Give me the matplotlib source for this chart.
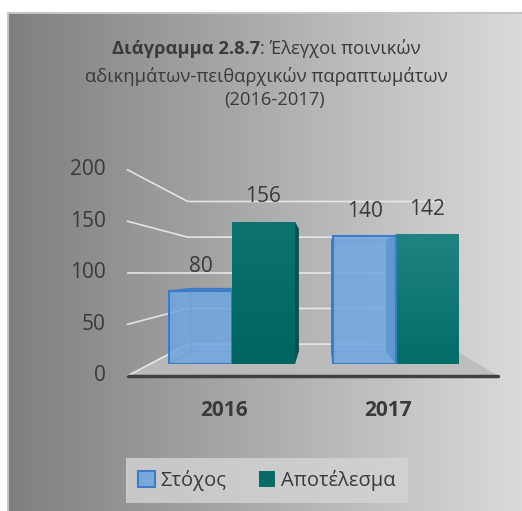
import numpy as np
import matplotlib
matplotlib.use('Agg')
import matplotlib.pyplot as plt
from matplotlib.patches import Polygon, Patch
from matplotlib.colors import LinearSegmentedColormap, to_rgba

plt.rcParams['font.family'] = ['Open Sans', 'DejaVu Sans']

# Δεδομένα
years = ['2016', '2017']
stoxos = [80, 140]
apotelesma = [156, 142]
series_names = ['Στόχος', 'Αποτέλεσμα']
yticks = [0, 50, 100, 150, 200]
title_bold = 'Διάγραμμα 2.8.7'
title_rest = ': Έλεγχοι ποινικών'
title_lines = ['αδικημάτων-πειθαρχικών παραπτωμάτων', '(2016-2017)']

TXT = '#3a3a3a'
BLUE = '#6ea6e0'
BLUE_EDGE = '#3b7bc8'
TEAL = '#0a6b66'
teal_top = ['#0d736e', '#1e847f']
teal_bot = ['#006560', '#046d68']

W, H = 522, 511
fig = plt.figure(figsize=(W / 100, H / 100), dpi=100)
fig.patch.set_facecolor('white')

# φόντο με οριζόντια διαβάθμιση
bg = fig.add_axes([0, 0, 1, 1], zorder=-5)
cmap_bg = LinearSegmentedColormap.from_list('bg', ['#7f7f7f', '#dadada'])
bg.imshow(np.linspace(0, 1, 256).reshape(1, -1), cmap=cmap_bg,
          extent=(7, W, H, 13), aspect='auto')
bg.plot([7.5, 7.5, W], [H, 13.5, 13.5], color='#c4c4c4', lw=1.5)
bg.set_xlim(0, W)
bg.set_ylim(H, 0)
bg.axis('off')

# κύριοι άξονες: επίπεδο της μπροστινής όψης των ράβδων
ax = fig.add_axes([150 / W, (H - 364) / H, 328 / W, 182.4 / H])

# προοπτική: σημείο φυγής και κλίμακα βάθους
VX, VY = 0.555, 100
K_FRONT, K_BACK, K_BAR = 1.13, 0.782, 0.86
xl, xr = -0.5, 1.5


def proj(x, v, k):
    return VX + k * (x - VX), VY + k * (v - VY)


# δάπεδο
floor = [proj(xl, 0, K_FRONT), proj(xl, 0, K_BACK),
         proj(xr, 0, K_BACK), proj(xr, 0, K_FRONT)]
ax.add_patch(Polygon(floor, closed=True, fc='#bcbcbc', ec='none', alpha=0.9,
                     clip_on=False, zorder=1))

# γραμμές πλέγματος και ετικέτες άξονα
for v in yticks:
    pts = [proj(xl, v, K_FRONT), proj(xl, v, K_BACK), proj(xr, v, K_BACK)]
    ax.plot(*zip(*pts), color='#ececec', lw=1.2, alpha=0.9, clip_on=False,
            zorder=2)
    fx, fy = proj(xl, v, K_FRONT)
    ax.annotate(str(v), (fx, fy), xytext=(-22, 0), textcoords='offset pixels',
                ha='right', va='center', fontsize=15, color=TXT,
                annotation_clip=False)

ax.plot(*zip(proj(xl, 0, K_FRONT), proj(xr, 0, K_FRONT)), color='#404040',
        lw=2.5, clip_on=False, zorder=3, solid_capstyle='round')

# ράβδοι
w = 0.384
x = np.arange(len(years))
b1 = ax.bar(x - w / 2, stoxos, w, color=to_rgba(BLUE, 0.85), ec=BLUE_EDGE, lw=1.5)
b2 = ax.bar(x + w / 2, apotelesma, w, color=TEAL, lw=0)


def side_faces(x0, x1, v):
    f = [(x0, 0), (x1, 0), (x1, v), (x0, v)]
    b = [proj(px, py, K_BAR) for px, py in f]
    faces = []
    if x0 > VX:
        faces.append([f[0], f[3], b[3], b[0]])
    if x1 < VX:
        faces.append([f[1], f[2], b[2], b[1]])
    if v < VY:
        faces.append([f[3], f[2], b[2], b[3]])
    return f, b, faces


bars = [(p, 's', i) for i, p in enumerate(b1)] + [(p, 'a', i) for i, p in enumerate(b2)]
bars.sort(key=lambda t: -abs(t[0].get_x() + t[0].get_width() / 2 - VX))

for n, (p, kind, i) in enumerate(bars):
    z = 5 + n
    x0 = p.get_x()
    x1 = x0 + p.get_width()
    v = p.get_height()
    f, b, faces = side_faces(x0, x1, v)
    if kind == 's':
        for face in faces:
            ax.add_patch(Polygon(face, closed=True, fc=to_rgba('#3f7cc6', 0.85),
                                 ec=BLUE_EDGE, lw=0.8, zorder=z + 0.2))
        edges = [[b[0], b[1]], [b[0], b[3]], [b[1], b[2]], [b[2], b[3]],
                 [f[0], b[0]], [f[1], b[1]], [f[2], b[2]], [f[3], b[3]]]
        for e in edges:
            ax.plot(*zip(*e), color=BLUE_EDGE, lw=0.9, alpha=0.55, zorder=z + 0.3)
        p.set_zorder(z + 0.5)
    else:
        for face in faces:
            ax.add_patch(Polygon(face, closed=True, fc='#04514d', ec='none',
                                 zorder=z + 0.2))
        p.set_zorder(z + 0.5)
        cm = LinearSegmentedColormap.from_list('t', [teal_bot[i], teal_top[i]])
        im = ax.imshow(np.linspace(0, 1, 64).reshape(-1, 1), cmap=cm,
                       extent=(x0, x1, 0, v), origin='lower', aspect='auto',
                       zorder=z + 0.6)
        im.set_clip_path(p)

ax.set_xlim(xl, xr)
ax.set_ylim(0, 200)
ax.axis('off')

# ετικέτες τιμών
for p in list(b1) + list(b2):
    cx = p.get_x() + p.get_width() / 2
    ax.annotate(f'{p.get_height():.0f}', (cx, p.get_height()), xytext=(0, 25),
                textcoords='offset pixels', ha='center', va='center',
                fontsize=15, color=TXT, zorder=30, annotation_clip=False)

# ετικέτες κατηγοριών
for xi, yr in zip(x, years):
    ax.annotate(yr, (xi, 0), xytext=(-8, -46), textcoords='offset pixels',
                ha='center', va='center', fontsize=15, fontweight='bold',
                color=TXT, annotation_clip=False)

# τίτλος
renderer = fig.canvas.get_renderer()
t1 = fig.text(0, 1 - 49 / H, title_bold, fontsize=13.2, fontweight='bold',
              color=TXT, ha='left', va='center')
t2 = fig.text(0, 1 - 49 / H, title_rest, fontsize=13.2, color=TXT,
              ha='left', va='center')
w1 = t1.get_window_extent(renderer).width
w2 = t2.get_window_extent(renderer).width
left = 266 - (w1 + w2) / 2
t1.set_x(left / W)
t2.set_x((left + w1) / W)
fig.text(266 / W, 1 - 76 / H, title_lines[0], fontsize=13.2, color=TXT,
         ha='center', va='center')
fig.text(275 / W, 1 - 100 / H, title_lines[1], fontsize=13.2, color=TXT,
         ha='center', va='center')

# υπόμνημα
handles = [Patch(fc=to_rgba(BLUE, 0.9), ec=BLUE_EDGE, lw=1.5, label=series_names[0]),
           Patch(fc=TEAL, ec='none', label=series_names[1])]
leg = fig.legend(handles=handles, loc='center',
                 bbox_to_anchor=(267 / W, (H - 480.5) / H), ncol=2,
                 fontsize=14.5, handlelength=0.8, handleheight=0.8,
                 handletextpad=0.3, columnspacing=1.6, borderpad=0.6,
                 fancybox=False, labelcolor=TXT)
frame = leg.get_frame()
frame.set_facecolor('#d4d4d4')
frame.set_alpha(0.8)
frame.set_edgecolor('none')

fig.savefig('out.png', dpi=100)
